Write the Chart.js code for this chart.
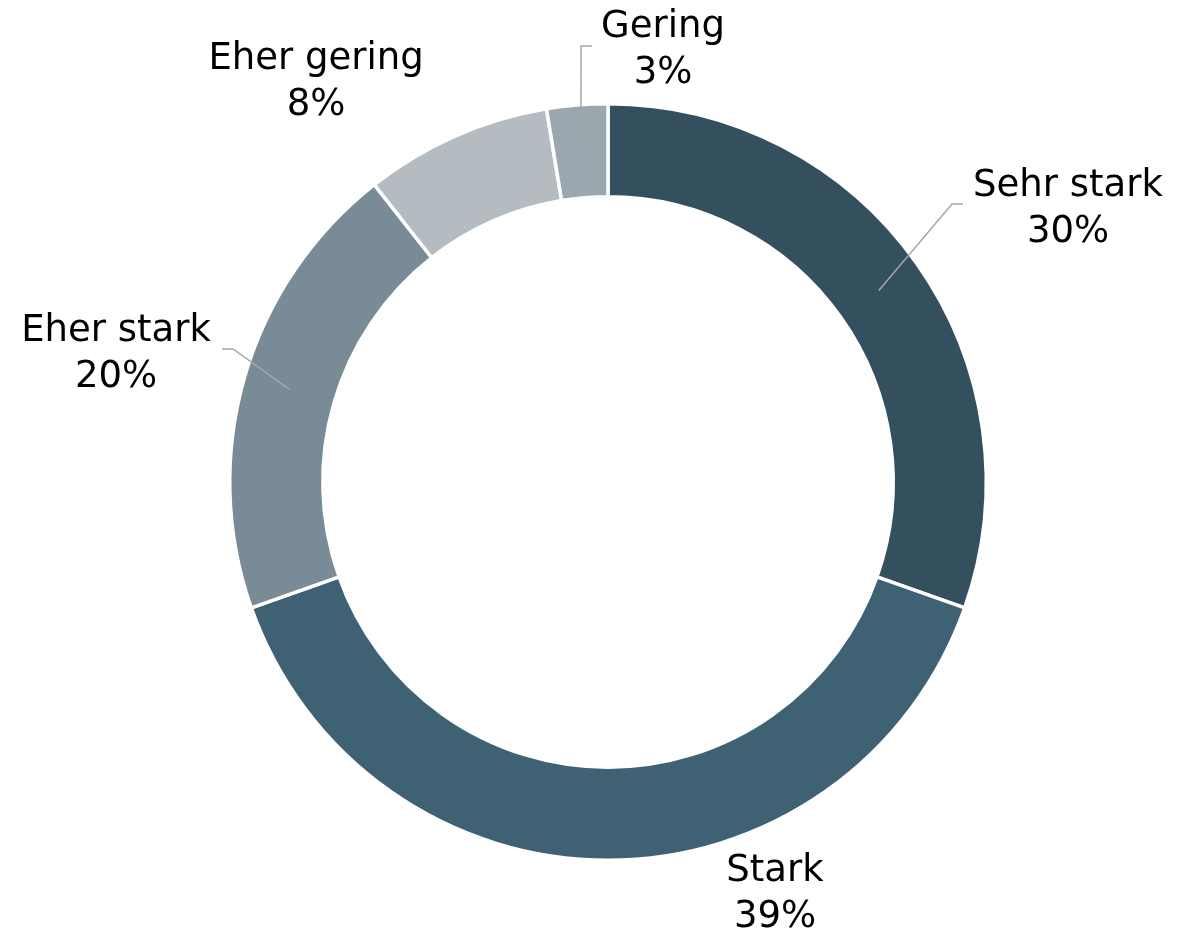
<!DOCTYPE html>
<html>
<head>
<meta charset="utf-8">
<script src="https://cdn.jsdelivr.net/npm/chart.js@4/dist/chart.umd.min.js"></script>
<style>
  html, body { margin: 0; padding: 0; background: #fff; }
  #wrap { width: 1198px; height: 931px; }
</style>
</head>
<body>
<div id="wrap"><canvas id="donut" width="1198" height="931"></canvas></div>
<script>
// Categories and shares (percent), clockwise from 12 o'clock
const categories = ['Sehr stark', 'Stark', 'Eher stark', 'Eher gering', 'Gering'];
const shares = [30.4, 39.2, 19.8, 8.0, 2.6];
const colors = ['#34505F', '#3E6173', '#788B96', '#B4BCC1', '#9AA7AF'];

// Label placement, relative to the doughnut centre (px). leader = elbow point or null.
const labelStyle = [
    { x: 460, y: -273, leader: { x: 344, y: -278 }, side: 1 },
    { x: 167, y: 412, leader: null },
    { x: -492, y: -128, leader: { x: -375, y: -133 }, side: -1 },
    { x: -292, y: -400, leader: null },
    { x: 55, y: -432, leader: { x: -27, y: -436 }, side: 1 }
];

const labelPlugin = {
    id: 'outLabels',
    afterDatasetsDraw: function(chart) {
        let ctx = chart.ctx;
        let meta = chart.getDatasetMeta(0);
        ctx.save();
        meta.data.forEach((arc, i) => {
            let p = arc.getProps(['x', 'y', 'startAngle', 'endAngle', 'innerRadius', 'outerRadius'], true);
            let mid = (p.startAngle + p.endAngle) / 2;
            let r = (p.innerRadius + p.outerRadius) / 2;
            let st = labelStyle[i];
            if (st.leader) {
                let sx = p.x + Math.cos(mid) * r;
                let sy = p.y + Math.sin(mid) * r;
                let ex = p.x + st.leader.x;
                let ey = p.y + st.leader.y;
                ctx.beginPath();
                ctx.strokeStyle = '#A6A6A6';
                ctx.lineWidth = 1.5;
                ctx.moveTo(sx, sy);
                ctx.lineTo(ex, ey);
                ctx.lineTo(ex + st.side * 11, ey);
                ctx.stroke();
            }
            ctx.fillStyle = '#000';
            ctx.font = '37px "DejaVu Sans"';
            ctx.textAlign = 'center';
            ctx.textBaseline = 'middle';
            let lx = p.x + st.x;
            let ly = p.y + st.y;
            ctx.fillText(categories[i], lx, ly - 23);
            ctx.fillText(Math.round(shares[i]) + '%', lx, ly + 23);
        });
        ctx.restore();
    }
};

new Chart(document.getElementById('donut').getContext('2d'), {
    type: 'doughnut',
    data: {
        labels: categories,
        datasets: [{
            data: shares,
            backgroundColor: colors,
            borderColor: '#ffffff',
            borderWidth: 3.5
        }]
    },
    options: {
        responsive: false,
        animation: false,
        cutout: '75.4%',
        layout: { padding: { left: 228, right: 210, top: 101, bottom: 68 } },
        plugins: {
            legend: { display: false },
            tooltip: { enabled: false }
        }
    },
    plugins: [labelPlugin]
});
</script>
</body>
</html>
